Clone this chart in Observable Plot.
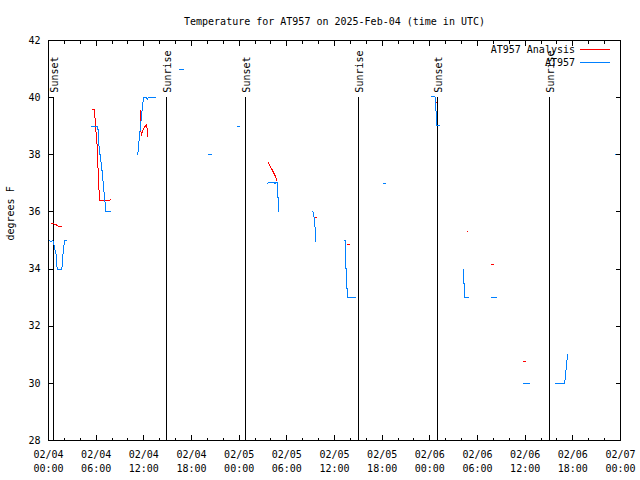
<!DOCTYPE html>
<html><head><meta charset="utf-8">
<script src="https://cdn.jsdelivr.net/npm/d3@7"></script>
<script src="https://cdn.jsdelivr.net/npm/@observablehq/plot@0.6"></script>
<style>body{margin:0;background:#fff}</style>
</head><body><div id="chart"></div>
<script>
const title = "Temperature for AT957 on 2025-Feb-04 (time in UTC)";
const yLabel = "degrees F";
const startMs = Date.UTC(2025, 1, 4, 0, 0);
const endHours = 72;

const seriesNames = ["AT957 Analysis", "AT957"];
const seriesColors = ["#ff0000", "#0080ff"];

// hours since 2025-02-04 00:00 UTC; null separates segments
const analysisHours = [0.42, 0.97, 1.26, 1.68, null,
  5.45, 5.79, 5.85, 5.92, 6.13, 6.2, 6.29, 6.42, 7.05, 7.8, null,
  11.54, 11.58, 11.62, 11.67, 11.83, 12.08, 12.34, 12.4, 12.5, null,
  27.65, 28.1, 28.5, 28.75, null,
  33.62, 33.7, null,
  37.66, 37.9, null,
  48.85, 48.9, null,
  52.75, 52.8, null,
  55.77, 56.0, null,
  59.8, 60.04];
const analysisTemps = [35.6, 35.55, 35.5, 35.5, null,
  39.57, 39.57, 39.3, 39.0, 38.3, 37.75, 37.16, 36.4, 36.4, 36.42, null,
  39.55, 39.2, 38.92, 38.67, 38.82, 38.96, 39.06, 38.95, 38.64, null,
  37.72, 37.5, 37.28, 37.1, null,
  35.8, 35.8, null,
  34.85, 34.85, null,
  39.82, 39.82, null,
  35.3, 35.3, null,
  34.15, 34.15, null,
  30.75, 30.75];

const obsHours = [0, 0.3, 0.55, 0.97, 1.09, 1.68, 1.81, 2.01, 2.22, null,
  5.45, 6.21, 6.25, 6.41, 6.5, 6.68, 6.83, 6.95, 7.1, 7.16, 7.24, 7.8, null,
  11.24, 11.33, 11.46, 11.58, 11.87, 12.0, 12.3, 12.45, 12.59, 13.43, null,
  16.5, 17.0, null,
  20.1, 20.5, null,
  23.8, 24.1, null,
  27.57, 27.65, 28.41, 28.53, 28.61, 28.83, 28.85, 28.95, 28.97, null,
  33.14, 33.32, 33.32, 33.45, 33.45, 33.57, 33.57, 33.65, 33.65, null,
  37.22, 37.35, 37.35, 37.42, 37.42, 37.51, 37.51, 37.68, 37.68, 38.61, null,
  42.13, 42.42, null,
  48.17, 48.59, 48.75, 48.75, 48.88, 48.88, 49.18, null,
  52.28, 52.28, 52.4, 52.4, 52.87, null,
  55.8, 56.4, null,
  59.8, 60.55, null,
  63.86, 65.0, 65.0, 65.12, 65.12, 65.24, 65.24, 65.37, 65.37, null,
  71.4, 72.0];
const obsTemps = [35.0, 34.97, 35.0, 34.5, 34.0, 34.0, 34.5, 35.0, 35.0, null,
  39.0, 39.0, 38.8, 38.05, 38.0, 37.6, 37.2, 36.8, 36.4, 36.2, 36.0, 36.0, null,
  38.0, 38.3, 38.7, 39.0, 39.8, 40.0, 40.0, 39.95, 40.0, 40.0, null,
  41.0, 41.0, null,
  38.0, 38.0, null,
  39.0, 39.0, null,
  36.98, 37.02, 37.02, 36.98, 37.02, 37.02, 36.52, 36.48, 36.0, null,
  36.0, 36.0, 35.84, 35.82, 35.5, 35.47, 35.15, 35.12, 34.97, null,
  35.0, 35.0, 34.69, 34.65, 34.03, 34.0, 33.33, 33.31, 33.0, 33.0, null,
  37.0, 37.0, null,
  40.03, 40.03, 40.0, 39.53, 39.49, 39.03, 39.03, null,
  34.0, 33.5, 33.48, 33.0, 33.0, null,
  33.0, 33.0, null,
  30.0, 30.0, null,
  30.0, 30.0, 30.12, 30.2, 30.47, 30.5, 30.82, 30.85, 31.0, null,
  38.0, 38.0];

const sunHours = [0.63, 14.85, 24.8, 39.0, 48.97, 63.07];
const sunLabels = ["Sunset", "Sunrise", "Sunset", "Sunrise", "Sunset", "Sunrise"];
const sunLineTop = 40;
const sunLineBottom = 28;

const yTicks = [28, 30, 32, 34, 36, 38, 40, 42];
const yDomain = [28, 42];
const majorTickHours = d3.range(0, 73, 6);
const minorTickHours = d3.range(0, 73, 2).filter(h => h % 6 !== 0);

const toDate = h => h == null ? null : new Date(startMs + h * 3600e3);
const mkRows = (hs, ts) => hs.map((h, i) => ({t: toDate(h), v: ts[i]}));
const analysisRows = mkRows(analysisHours, analysisTemps);
const obsRows = mkRows(obsHours, obsTemps);
const sunRows = sunHours.map((h, i) => ({t: toDate(h), label: sunLabels[i]}));
const majors = majorTickHours.map(toDate);
const minors = minorTickHours.map(toDate);
const fmt = d3.utcFormat("%m/%d");
const fmt2 = d3.utcFormat("%H:%M");
const FONT = "DejaVu Sans Mono";

function legendMark(index, scales, values, dims) {
  const g = d3.create("svg:g").attr("font-family", FONT).attr("font-size", 10).attr("fill", "black");
  const xr = dims.width - dims.marginRight;
  seriesNames.forEach((name, i) => {
    const y = dims.marginTop + 10 + i * 12.5;
    g.append("text").attr("x", xr - 45).attr("y", y).attr("dy", "0.32em")
      .attr("text-anchor", "end").text(name);
    g.append("line").attr("x1", xr - 40).attr("x2", xr - 10)
      .attr("y1", Math.round(y) - 0.5).attr("y2", Math.round(y) - 0.5)
      .attr("stroke", seriesColors[i]).attr("stroke-width", 1);
  });
  return g.node();
}

const chart = Plot.plot({
  width: 640,
  height: 480,
  marginLeft: 48,
  marginRight: 20,
  marginTop: 40,
  marginBottom: 40,
  style: {fontFamily: FONT, fontSize: "10px", background: "white", color: "black", shapeRendering: "crispEdges"},
  x: {type: "utc", domain: [toDate(0), toDate(endHours)]},
  y: {domain: yDomain},
  marks: [
    Plot.ruleX(sunRows, {x: "t", y1: sunLineBottom, y2: sunLineTop, stroke: "black", strokeWidth: 1.3}),
    Plot.text(sunRows, {x: "t", y: sunLineTop, text: "label", rotate: -90, textAnchor: "start", lineAnchor: "middle", dy: -5, dx: 1.5, fill: "black"}),
    Plot.line(analysisRows, {x: "t", y: "v", stroke: seriesColors[0], strokeWidth: 1, curve: "linear"}),
    Plot.line(obsRows, {x: "t", y: "v", stroke: seriesColors[1], strokeWidth: 1, curve: "linear"}),
    Plot.frame({stroke: "black"}),
    Plot.axisY({ticks: yTicks, tickSize: -5, tickPadding: 13, label: null, tickFormat: d => String(d)}),
    Plot.axisY({anchor: "right", ticks: yTicks, tickSize: -5, label: null, tickFormat: () => ""}),
    Plot.axisX({ticks: majors, tickSize: -5, tickPadding: 13, label: null, lineHeight: 1.4,
      tickFormat: d => fmt(d) + "\n" + fmt2(d)}),
    Plot.axisX({ticks: minors, tickSize: -2.5, label: null, tickFormat: () => ""}),
    Plot.axisX({anchor: "top", ticks: majors, tickSize: -5, label: null, tickFormat: () => ""}),
    Plot.axisX({anchor: "top", ticks: minors, tickSize: -2.5, label: null, tickFormat: () => ""}),
    Plot.text([yLabel], {frameAnchor: "left", dx: -38, rotate: -90, fill: "black"}),
    Plot.text([title], {frameAnchor: "top", dy: -23, fill: "black"}),
    legendMark
  ]
});
document.getElementById("chart").appendChild(chart);
</script></body></html>
